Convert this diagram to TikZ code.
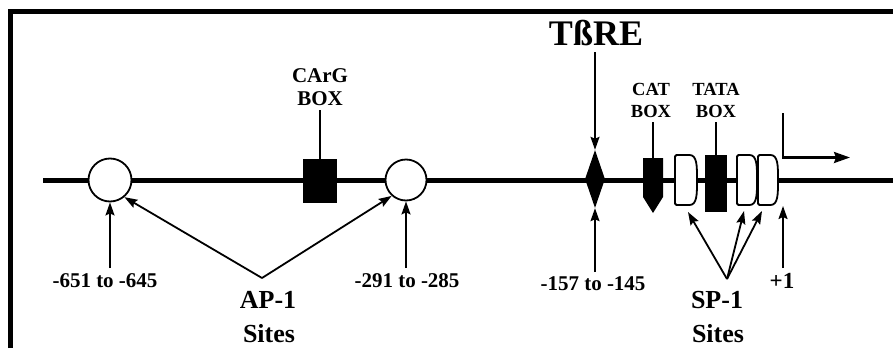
\documentclass[tikz,border=0pt]{standalone}
\usepackage{fontspec}
\setmainfont{Liberation Serif}
\usetikzlibrary{arrows.meta,shapes.geometric,calc}

\tikzset{
  txt/.style={inner sep=0pt, anchor=base, font=\bfseries\fontsize{#1}{#1}\selectfont},
  txt/.default=21,
  thinarrow/.style={line width=1.8pt, -{Stealth[length=13pt,width=9pt,inset=2pt]}},
  stem/.style={line width=1.8pt},
  site/.style={circle, draw, line width=1.8pt, fill=white, minimum size=43pt, inner sep=0pt},
  solidbox/.style={rectangle, fill=black, inner sep=0pt},
  pics/spbox/.style={code={
    \draw[line width=1.8pt, fill=white, rounded corners=1.5pt]
      (0,-25) -- (0,25) -- (#1-9,25)
      .. controls (#1,25) and (#1,14) .. (#1,0)
      .. controls (#1,-14) and (#1,-25) .. (#1-9,-25) -- cycle;
  }}
}

\begin{document}
\begin{tikzpicture}[x=1pt,y=-1pt]
\useasboundingbox (0,0) rectangle (893,348);
\fill[white] (0,0) rectangle (893,348);

% frame
\draw[line width=5pt, line join=miter] (10,348) -- (10,11) -- (893,11);

% DNA strand
\coordinate (lineL) at (43,180);
\coordinate (lineR) at (893,180);
\draw[line width=5pt] (lineL) -- (lineR);

% elements on the strand
\node[site] (c1) at (110,180) {};
\node[solidbox, minimum width=34pt, minimum height=44pt] (carg) at (320,181) {};
\node[site, minimum size=41pt] (c2) at (406,180) {};
\node[diamond, fill=black, minimum width=20pt, minimum height=58pt, inner sep=0pt] (tb) at (595,179) {};
\fill (643,158) -- (663,158) -- (663,197) -- (653,213) -- (643,197) -- cycle;
\coordinate (cat) at (653,158);
\pic (d1) at (675,180) {spbox=22};
\node[solidbox, minimum width=22pt, minimum height=57pt] (tata) at (716,183.5) {};
\pic (d2) at (737,180) {spbox=20};
\pic (d3) at (758,180) {spbox=20};

% transcription start
\coordinate (tsBot) at (783,157.5);
\coordinate (tsTop) at (783,113);
\coordinate (tsEnd) at (850,157.5);
\draw[line width=2.5pt, -{Stealth[length=16pt,width=11pt,inset=2pt]}] (tsTop) -- (tsBot) -- (tsEnd);

% labels above
\node[txt=21] (cargA) at (320,82) {CArG};
\node[txt=21] (cargB) at (320,105) {BOX};
\draw[stem] (carg.north |- 0,110) -- (carg.north);

\node[txt=36] (tbre) at (596,45) {TßRE};
\draw[thinarrow] (tb.north |- 0,52) -- (tb.north);

\node[txt=18.5] (catA) at (651,95) {CAT};
\node[txt=18.5] (catB) at (651,117) {BOX};
\draw[stem] (cat |- 0,122) -- (cat);

\node[txt=18.5] (tataA) at (716,95) {TATA};
\node[txt=18.5] (tataB) at (716,117) {BOX};
\draw[stem] (tata.north |- 0,122) -- (tata.north);

% position labels below
\node[txt] (p651) at (105,287) {-651 to -645};
\draw[thinarrow] (c1.south |- 0,268) -- (c1.south);

\node[txt] (p291) at (407,287) {-291 to -285};
\draw[thinarrow] (c2.south |- 0,268) -- (c2.south);

\node[txt] (p157) at (593,290) {-157 to -145};
\draw[thinarrow] (tb.south |- 0,272) -- (tb.south);

\node[txt=23] (plus1) at (782,288) {+1};
\draw[thinarrow] (tsBot |- 0,268) -- (tsBot |- 0,206);

% AP-1 sites
\node[txt=26] (apA) at (268,308) {AP-1};
\node[txt=26] (apB) at (269,342) {Sites};
\coordinate (ap) at (262,278);
\draw[thinarrow] (ap) -- (c1.-50);
\draw[thinarrow] (ap) -- (c2.-132);

% SP-1 sites
\node[txt=26] (spA) at (717,308) {SP-1};
\node[txt=26] (spB) at (718,342) {Sites};
\coordinate (sp) at (727,279);
\coordinate (t1) at (688,212);
\coordinate (t2) at (744,211);
\coordinate (t3) at (762,211);
\draw[thinarrow] (sp) -- (t1);
\draw[thinarrow] (sp) -- (t2);
\draw[thinarrow] (sp) -- (t3);
\end{tikzpicture}
\end{document}
